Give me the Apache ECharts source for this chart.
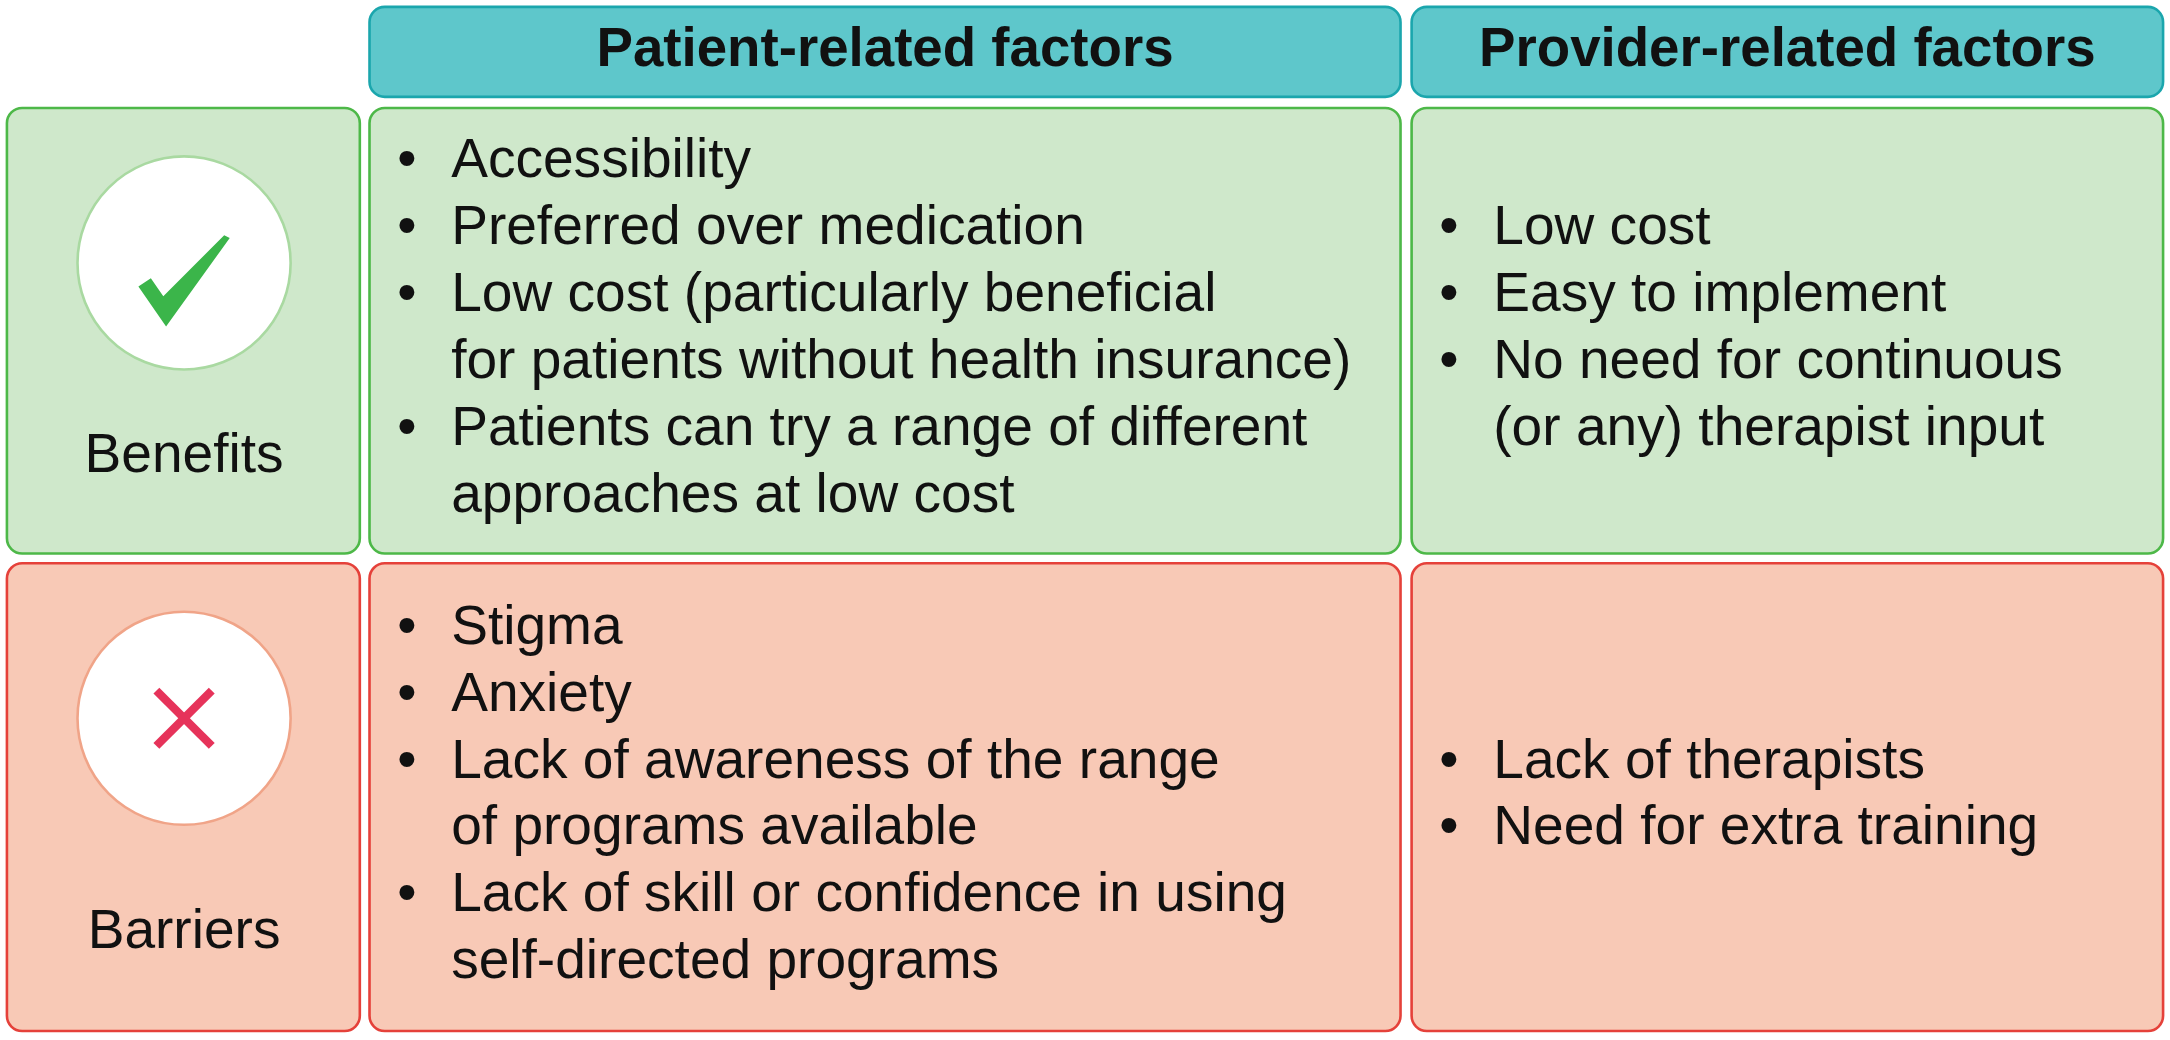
<!DOCTYPE html>
<html><head><meta charset="utf-8">
<script src="https://cdn.jsdelivr.net/npm/echarts@6/dist/echarts.min.js"></script>
<style>html,body{margin:0;padding:0;background:#fff}#c{width:2170px;height:1040px}</style>
</head><body><div id="c"></div>
<script>
// table contents
const headers = ['Patient-related factors', 'Provider-related factors'];
const rowLabels = ['Benefits', 'Barriers'];
const benefitsPatient = [
    ['Accessibility'],
    ['Preferred over medication'],
    ['Low cost (particularly beneficial', 'for patients without health insurance)'],
    ['Patients can try a range of different', 'approaches at low cost']
];
const benefitsProvider = [
    ['Low cost'],
    ['Easy to implement'],
    ['No need for continuous', '(or any) therapist input']
];
const barriersPatient = [
    ['Stigma'],
    ['Anxiety'],
    ['Lack of awareness of the range', 'of programs available'],
    ['Lack of skill or confidence in using', 'self-directed programs']
];
const barriersProvider = [
    ['Lack of therapists'],
    ['Need for extra training']
];

const S = 2170 / 1568;
const FONT = 'Liberation Sans';
const colX = [[5, 260], [267, 1012], [1020, 1563]];
const rowY = [[78, 400], [407, 745]];
const themes = [
    {fill: '#cfe8cb', border: '#4db848', ring: '#a9d9a1'},
    {fill: '#f8c9b6', border: '#e5413a', ring: '#f0a488'}
];

let g = [];

function box(x0, y0, x1, y1, fill, stroke) {
    g.push({type: 'rect', shape: {x: x0 * S, y: y0 * S, width: (x1 - x0) * S, height: (y1 - y0) * S, r: 11 * S},
        style: {fill: fill, stroke: stroke, lineWidth: 2.6}});
}

function txt(x, y, s, opts) {
    g.push({type: 'text', x: x * S, y: y * S, z: 10,
        style: Object.assign({text: s, fontFamily: FONT, fontSize: 39.8 * S, fill: '#111', verticalAlign: 'middle'}, opts || {})});
}

function bullets(items, col, row) {
    let lines = [];
    items.forEach(it => it.forEach((l, i) => lines.push({l: l, first: i === 0})));
    const lh = 48.3;
    const x0 = colX[col][0];
    const mid = (rowY[row][0] + rowY[row][1]) / 2 - 1;
    let y = mid - (lines.length - 1) * lh / 2;
    lines.forEach(ln => {
        if (ln.first) txt(x0 + 20, y, '•');
        txt(x0 + 59, y, ln.l);
        y += lh;
    });
}

// headers
headers.forEach((h, i) => {
    const c = colX[i + 1];
    box(c[0], 5, c[1], 70, '#5ec7cb', '#1ba6ad');
    txt((c[0] + c[1]) / 2, 37, h, {fontWeight: 'bold', fontSize: 39.5 * S, align: 'center'});
});

// rows
rowLabels.forEach((lab, r) => {
    const t = themes[r];
    colX.forEach(c => box(c[0], rowY[r][0], c[1], rowY[r][1], t.fill, t.border));
    const cy = rowY[r][0] + 112;
    g.push({type: 'circle', shape: {cx: 133 * S, cy: cy * S, r: 77 * S}, style: {fill: '#fff', stroke: t.ring, lineWidth: 2.6}});
    if (r === 0) {
        g.push({type: 'polygon', z: 5, shape: {points: [[100, 207], [109, 201], [118, 214], [162, 170], [166, 172], [120, 236]].map(p => [p[0] * S, p[1] * S])},
            style: {fill: '#3bb54a'}});
    } else {
        const cx = 133 * S, cyy = cy * S, d = 20 * S;
        g.push({type: 'line', z: 5, shape: {x1: cx - d, y1: cyy - d, x2: cx + d, y2: cyy + d}, style: {stroke: '#e6335a', lineWidth: 6 * S}});
        g.push({type: 'line', z: 5, shape: {x1: cx + d, y1: cyy - d, x2: cx - d, y2: cyy + d}, style: {stroke: '#e6335a', lineWidth: 6 * S}});
    }
    txt(133, rowY[r][0] + 252 + (r ? 15 : 0), lab, {align: 'center'});
});

bullets(benefitsPatient, 1, 0);
bullets(benefitsProvider, 2, 0);
bullets(barriersPatient, 1, 1);
bullets(barriersProvider, 2, 1);

let chart = echarts.init(document.getElementById('c'));
chart.setOption({animation: false, graphic: g});
</script></body></html>
